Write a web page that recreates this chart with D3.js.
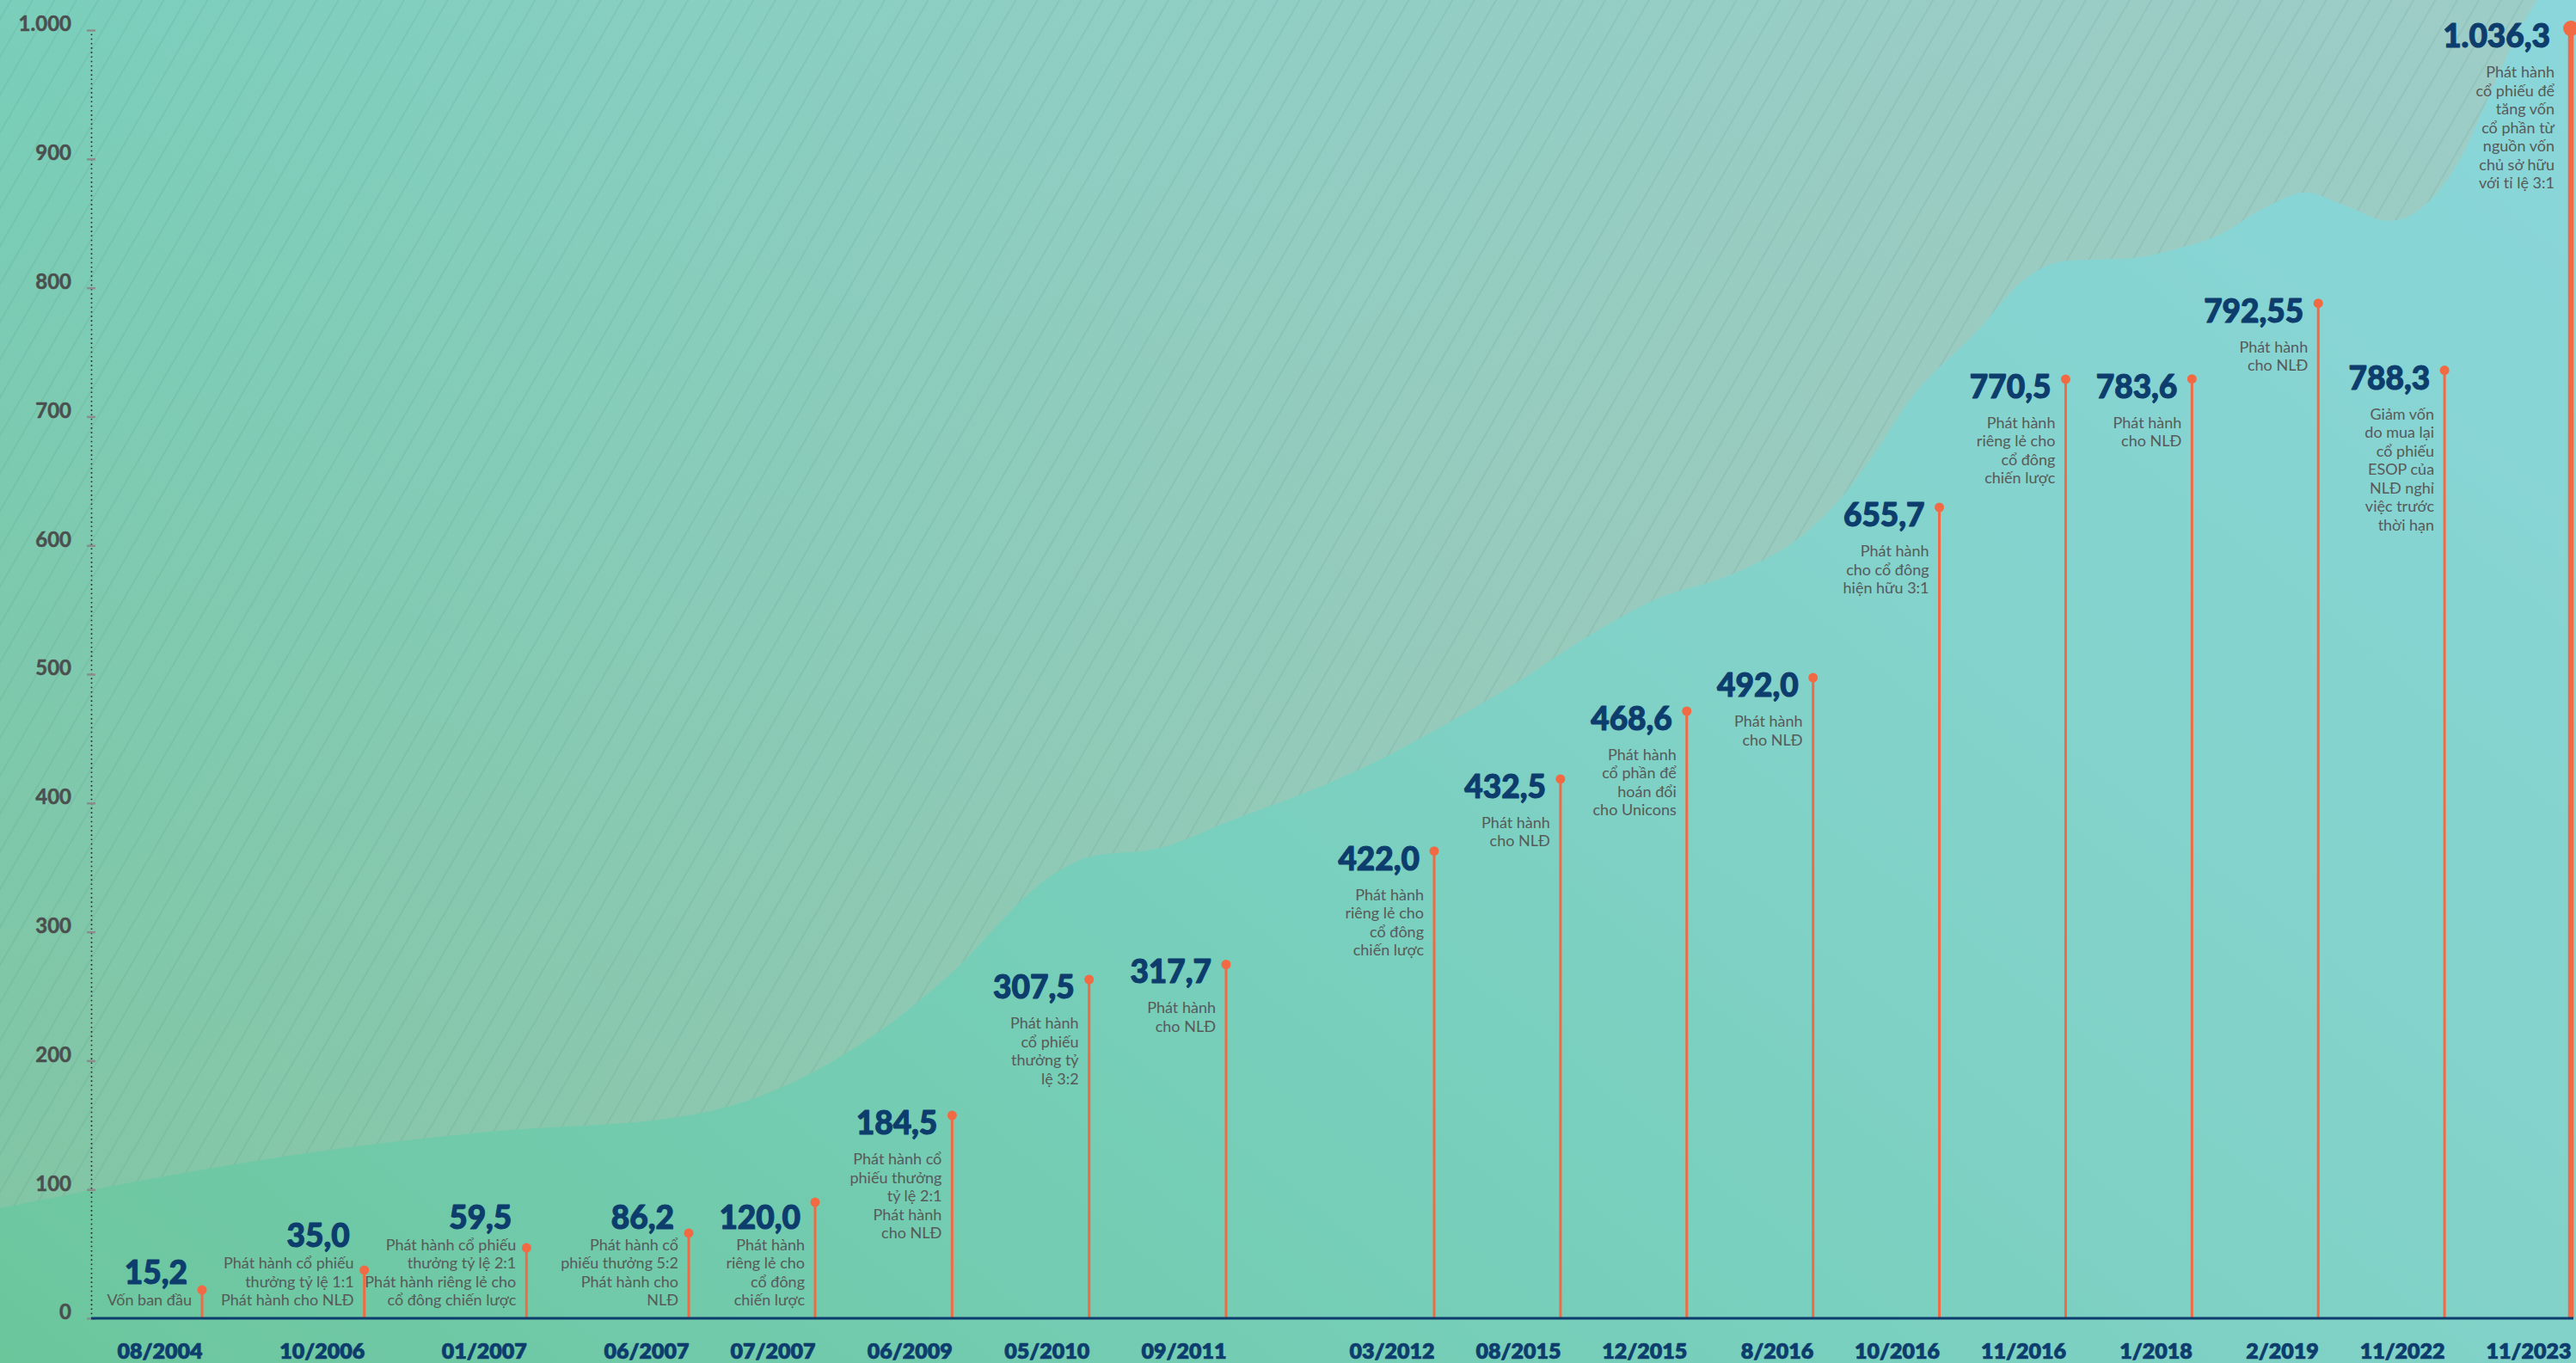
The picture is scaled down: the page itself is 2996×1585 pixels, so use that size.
<!DOCTYPE html>
<html>
<head>
<meta charset="utf-8">
<script src="https://cdn.jsdelivr.net/npm/d3@7"></script>
<style>
  html, body { margin: 0; padding: 0; overflow: hidden; background: #79cdb5; }
  svg { display: block; }
</style>
</head>
<body>
<svg id="chart"></svg>
<script>
// ---------------- DATA ----------------
const periods = ["08/2004","10/2006","01/2007","06/2007","07/2007","06/2009","05/2010","09/2011",
  "03/2012","08/2015","12/2015","8/2016","10/2016","11/2016","1/2018","2/2019","11/2022","11/2023"];

// charter capital shown in each label (billion VND)
const capital = [15.2, 35.0, 59.5, 86.2, 120.0, 184.5, 307.5, 317.7, 422.0, 432.5, 468.6, 492.0,
  655.7, 770.5, 783.6, 792.55, 788.3, 1036.3];

// height of each lollipop as drawn in the graphic, read against the y axis
const markerLevel = [22.0, 37.4, 54.7, 66.1, 90.1, 157.5, 263.0, 274.7, 362.7, 418.6, 471.3, 497.3,
  629.5, 729.0, 729.2, 787.9, 735.9, 1001.3];

const notes = [
  ["Vốn ban đầu"],
  ["Phát hành cổ phiếu", "thưởng tỷ lệ 1:1", "Phát hành cho NLĐ"],
  ["Phát hành cổ phiếu", "thưởng tỷ lệ 2:1", "Phát hành riêng lẻ cho", "cổ đông chiến lược"],
  ["Phát hành cổ", "phiếu thưởng 5:2", "Phát hành cho", "NLĐ"],
  ["Phát hành", "riêng lẻ cho", "cổ đông", "chiến lược"],
  ["Phát hành cổ", "phiếu thưởng", "tỷ lệ 2:1", "Phát hành", "cho NLĐ"],
  ["Phát hành", "cổ phiếu", "thưởng tỷ", "lệ 3:2"],
  ["Phát hành", "cho NLĐ"],
  ["Phát hành", "riêng lẻ cho", "cổ đông", "chiến lược"],
  ["Phát hành", "cho NLĐ"],
  ["Phát hành", "cổ phần để", "hoán đổi", "cho Unicons"],
  ["Phát hành", "cho NLĐ"],
  ["Phát hành", "cho cổ đông", "hiện hữu 3:1"],
  ["Phát hành", "riêng lẻ cho", "cổ đông", "chiến lược"],
  ["Phát hành", "cho NLĐ"],
  ["Phát hành", "cho NLĐ"],
  ["Giảm vốn", "do mua lại", "cổ phiếu", "ESOP của", "NLĐ nghỉ", "việc trước", "thời hạn"],
  ["Phát hành", "cổ phiếu để", "tăng vốn", "cổ phần từ", "nguồn vốn", "chủ sở hữu", "với tỉ lệ 3:1"]
];

const yTicks = [0, 100, 200, 300, 400, 500, 600, 700, 800, 900, 1000];

// decorative background growth curve: position (in period-index units) and level (axis units)
const trendIndex = [-1.246, -0.148, 0.949, 1.829, 2.926, 3.469, 4.031, 4.552, 4.954, 5.732, 5.996,
  6.517, 7.025, 7.368, 7.707, 8.082, 8.647, 9.212, 9.777, 10.342, 10.907, 11.193, 11.472, 11.751,
  12.316, 12.656, 13.004, 13.521, 13.868, 14.216, 14.556, 14.903, 15.182, 15.563, 15.768, 16.115,
  16.387, 16.598, 16.734, 17.041];
const trendLevel = [85.4, 112, 133.5, 145.5, 156, 169, 193.6, 229, 264, 344, 358,
  365, 386.5, 407, 431, 460.6, 493, 529, 559, 577, 607, 633.5, 669.6, 711,
  768, 805, 821, 823, 830, 841, 861, 874, 865, 852, 858.5, 898.5,
  956.6, 1001, 1023, 1063];

// ---------------- LAYOUT ----------------
const W = 2996, H = 1585;
const FONT = "Lato, 'Open Sans', 'Noto Sans', sans-serif";
const NAVY = "#0d3d6d";
const ORANGE = "#f26a43";

const svg = d3.select("#chart").attr("width", W).attr("height", H).attr("viewBox", `0 0 ${W} ${H}`);
const defs = svg.append("defs");

const y = d3.scaleLinear().domain([0, 1000]).range([1533, 35]);
// piecewise spacing of the periods as laid out in the graphic
const x = d3.scaleLinear().domain([0, 3, 4, 7, 8, 17]).range([235, 801, 948, 1426, 1668, 2990]);
const axisX = 106;

// background gradient
const bg = defs.append("linearGradient").attr("id", "bg")
  .attr("gradientUnits", "userSpaceOnUse")
  .attr("x1", 0).attr("y1", H).attr("x2", 1958).attr("y2", -807);
[[0, "#6cc69c"], [0.4, "#77cfbb"], [0.62, "#82d2c9"], [1, "#8ad6da"]].forEach(([o, c]) =>
  bg.append("stop").attr("offset", o).attr("stop-color", c));

// overlay tint for the region above the curve
const ov = defs.append("linearGradient").attr("id", "ov")
  .attr("gradientUnits", "userSpaceOnUse")
  .attr("x1", 0).attr("y1", 0).attr("x2", 1200).attr("y2", 1300);
ov.append("stop").attr("offset", 0).attr("stop-color", "#b3c2af").attr("stop-opacity", 0.05);
ov.append("stop").attr("offset", 1).attr("stop-color", "#b3c2af").attr("stop-opacity", 0.45);

// hatch pattern
const pat = defs.append("pattern").attr("id", "hatch")
  .attr("patternUnits", "userSpaceOnUse")
  .attr("width", 22).attr("height", 22)
  .attr("patternTransform", "rotate(30)");
pat.append("line").attr("x1", 11).attr("y1", 0).attr("x2", 11).attr("y2", 22)
  .attr("stroke", "#2f6257").attr("stroke-opacity", 0.13).attr("stroke-width", 1.3);

svg.append("rect").attr("width", W).attr("height", H).attr("fill", "url(#bg)");

// decorative area above the curve
const trend = trendIndex.map((t, i) => ({ t, v: trendLevel[i] }));
const area = d3.area()
  .x(d => x(d.t))
  .y0(0)
  .y1(d => y(d.v))
  .curve(d3.curveMonotoneX);
svg.append("path").datum(trend).attr("d", area).attr("fill", "url(#ov)");
svg.append("path").datum(trend).attr("d", area).attr("fill", "url(#hatch)");

// ---------------- Y AXIS ----------------
const vi = d3.formatLocale({ decimal: ",", thousands: ".", grouping: [3], currency: ["", " đ"] });
const yAxis = d3.axisLeft(y).tickValues(yTicks).tickFormat(vi.format(",")).tickSizeInner(5).tickSizeOuter(0).tickPadding(18);
const gy = svg.append("g").attr("transform", `translate(${axisX},0)`).call(yAxis);
gy.select(".domain").attr("stroke", "#1f2a2a").attr("stroke-width", 1.6).attr("stroke-dasharray", "1.6,3.6");
gy.selectAll(".tick line").attr("x1", -5).attr("x2", 5).attr("stroke", "#8a8d8c").attr("stroke-width", 2.5);
gy.selectAll(".tick text")
  .attr("dy", "0.04em")
  .attr("fill", "#4b4f4e")
  .attr("stroke", "#4b4f4e").attr("stroke-width", 0.5)
  .style("font-family", FONT).style("font-weight", 700).style("font-size", "24px");

// ---------------- LOLLIPOPS ----------------
const idx = d3.range(periods.length);
const last = periods.length - 1;
const g = svg.append("g");
g.selectAll("line.stem").data(idx).join("line")
  .attr("class", "stem")
  .attr("x1", i => x(i)).attr("x2", i => x(i))
  .attr("y1", y(0)).attr("y2", i => y(markerLevel[i]))
  .attr("stroke", ORANGE)
  .attr("stroke-width", i => i === last ? 6.5 : 3);
g.selectAll("circle.dot").data(idx).join("circle")
  .attr("class", "dot")
  .attr("cx", i => x(i)).attr("cy", i => y(markerLevel[i]))
  .attr("r", i => i === last ? 9 : 5.5)
  .attr("fill", ORANGE);

// labels
const fmtVal = v => {
  const s = String(v);
  const dec = s.includes(".") ? s.split(".")[1].length : 0;
  return vi.format(",." + Math.max(1, dec) + "f")(v);
};
const lh = 21.5;
const limit = y(0) - 15;
idx.forEach(i => {
  const cx = x(i), cy = y(markerLevel[i]);
  const r = i === last ? 9 : 5.5;
  const lines = notes[i];
  let valueBase = cy + 22;
  let noteFirst = valueBase + 35;
  if (noteFirst + (lines.length - 1) * lh > limit) {
    noteFirst = limit - (lines.length - 1) * lh;
    valueBase = noteFirst - 25;
  }
  g.append("text")
    .attr("x", cx - (r * 2 + 6)).attr("y", valueBase)
    .attr("text-anchor", "end")
    .attr("fill", NAVY)
    .attr("stroke", NAVY).attr("stroke-width", 1.1).attr("stroke-linejoin", "round")
    .style("font-family", FONT).style("font-weight", 900).style("font-size", "37px")
    .text(fmtVal(capital[i]));
  const t = g.append("text")
    .attr("text-anchor", "end")
    .attr("fill", "#575a59")
    .style("font-family", FONT).style("font-weight", 400).style("font-size", "18px");
  lines.forEach((ln, k) => {
    t.append("tspan").attr("x", cx - (r * 2 + 1)).attr("y", noteFirst + k * lh).text(ln);
  });
});

// ---------------- X AXIS ----------------
const xAxis = d3.axisBottom(x).tickValues(idx).tickFormat(i => periods[i]).tickSizeInner(0).tickSizeOuter(0).tickPadding(29);
const gx = svg.append("g").attr("transform", `translate(0,${y(0)})`).call(xAxis);
gx.select(".domain").remove();
gx.selectAll(".tick text")
  .attr("text-anchor", "end")
  .attr("fill", NAVY)
  .attr("stroke", NAVY).attr("stroke-width", 0.7).attr("stroke-linejoin", "round")
  .style("font-family", FONT).style("font-weight", 800).style("font-size", "25px");

svg.append("line")
  .attr("x1", axisX).attr("x2", x(last) + 3)
  .attr("y1", y(0)).attr("y2", y(0))
  .attr("stroke", NAVY).attr("stroke-width", 3);
</script>
</body>
</html>
